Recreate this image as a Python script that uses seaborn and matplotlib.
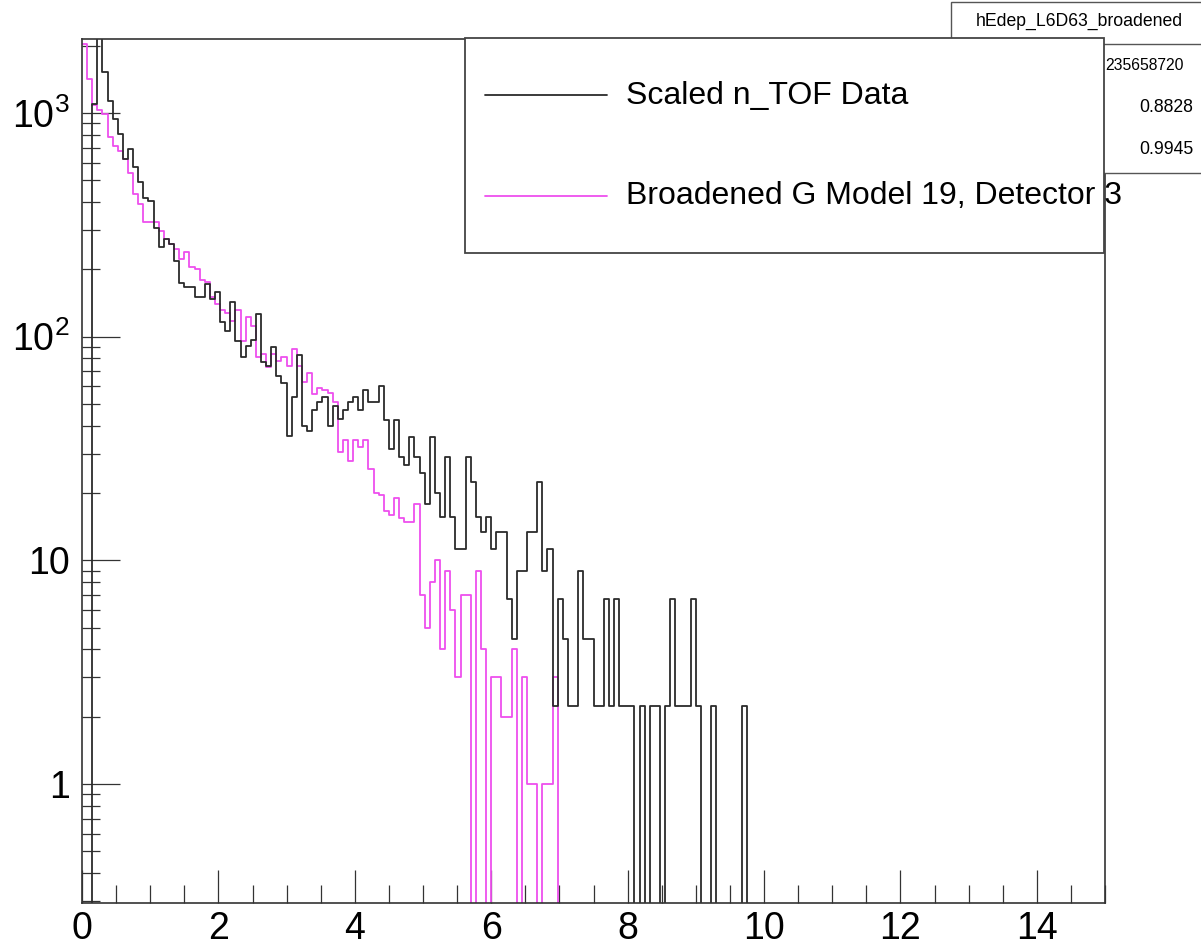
import numpy as np
import pandas as pd
import matplotlib
matplotlib.use("Agg")
import matplotlib.pyplot as plt
from matplotlib.patches import Rectangle
from matplotlib.lines import Line2D
from matplotlib.ticker import LogLocator, MultipleLocator, NullFormatter
import seaborn as sns

# histogram binning: 200 bins from 0 to 15
n_bins = 200
x_lo, x_hi = 0.0, 15.0

# scaled n_TOF data, bin contents (bins 0..129, rest empty)
data_counts = [
    0, 0, 1100, 2600, 1524, 1132, 937, 803, 621, 689,
    574, 489, 415, 405, 305, 252, 273, 259, 218, 174,
    166, 167, 150, 151, 172, 148, 158, 116, 106, 143,
    96, 81, 91, 97, 126, 77, 74, 90, 67, 62,
    36, 54, 83, 40, 38, 47, 51, 54, 40, 49,
    43, 47, 51, 54, 47, 58, 51, 51, 60, 42.4,
    31.3, 42.4, 29.0, 26.8, 35.7, 29.0, 24.6, 17.9, 35.7, 20.1,
    15.6, 29.0, 15.6, 11.2, 11.2, 29.0, 22.3, 15.6, 13.4, 15.6,
    11.2, 13.4, 13.4, 6.7, 4.47, 8.94, 8.94, 13.4, 13.4, 22.3,
    8.94, 11.2, 2.23, 6.7, 4.47, 2.23, 2.23, 8.94, 4.47, 4.47,
    2.23, 2.23, 6.7, 2.23, 6.7, 2.23, 2.23, 2.23, 0, 2.23,
    0, 2.23, 2.23, 0, 2.23, 6.7, 2.23, 2.23, 2.23, 6.7,
    2.23, 0, 0, 2.23, 0, 0, 0, 0, 0, 2.23,
] + [0] * 70

# broadened G model 19, detector 3 (bins 0..92, rest empty)
model_counts = [
    2040, 1420, 1086, 1031, 986, 777, 713, 677, 621, 541,
    433, 391, 324, 324, 327, 297, 273, 259, 246, 222,
    238, 205, 200, 180, 175, 151, 140, 131, 127, 118,
    131, 96, 123, 112, 81, 84, 73, 84, 78, 81,
    74, 88, 74, 63, 69, 55.5, 59, 57.5, 56, 51,
    30.5, 34.6, 27.9, 34.6, 32, 34.6, 25.6, 19.9, 19.5, 16.7,
    16, 18.9, 15.5, 14.8, 14.8, 17.8, 7, 5, 8, 10,
    4, 9, 6, 3, 7, 7, 0, 9, 4, 0,
    3, 3, 2, 2, 4, 0, 3, 1, 1, 0,
    1, 1, 3,
] + [0] * 107

data_label = "Scaled n_TOF Data"
model_label = "Broadened G Model 19, Detector 3"
x_ticks = [0, 2, 4, 6, 8, 10, 12, 14]
y_ticks = [1, 10, 100, 1000]
y_tick_labels = ["1", "10", "$10^{2}$", "$10^{3}$"]

stats_title = "hEdep_L6D63_broadened"
stats_values = ["235658720", "0.8828", "0.9945"]

data_color = "#2b2b2b"
model_color = "#ee4fee"

edges = np.linspace(x_lo, x_hi, n_bins + 1)
centers = 0.5 * (edges[:-1] + edges[1:])
df = pd.DataFrame({
    "edep": np.concatenate([centers, centers]),
    "counts": data_counts + model_counts,
    "series": [data_label] * n_bins + [model_label] * n_bins,
})

sns.set_style("white")
plt.rcParams["font.family"] = ["Liberation Sans", "DejaVu Sans"]
plt.rcParams["mathtext.default"] = "regular"
plt.rcParams["text.color"] = "black"

W, H = 1201, 948
fig = plt.figure(figsize=(W / 100, H / 100), dpi=100)
ax = fig.add_axes([82 / W, 1 - 903 / H, (1105 - 82) / W, (903 - 39) / H])

sns.histplot(data=df, x="edep", weights="counts", hue="series",
             hue_order=[data_label, model_label], bins=edges.tolist(),
             element="step", fill=False, linewidth=1.3,
             palette={data_label: data_color, model_label: model_color},
             legend=False, ax=ax)
for ln in ax.lines:
    if ln.get_color() == data_color:
        ln.set_zorder(3)

ax.set_yscale("log")
ax.set_xlim(x_lo, x_hi)
ax.set_ylim(0.294, 2140)
ax.set_xlabel("")
ax.set_ylabel("")

ax.set_xticks(x_ticks)
ax.set_xticklabels([str(t) for t in x_ticks])
ax.xaxis.set_minor_locator(MultipleLocator(0.5))
ax.set_yticks(y_ticks)
ax.set_yticklabels(y_tick_labels)
ax.yaxis.set_minor_locator(LogLocator(base=10, subs=np.arange(2, 10), numticks=20))
ax.yaxis.set_minor_formatter(NullFormatter())

ax.tick_params(axis="both", which="both", direction="in", colors="#333333",
               labelcolor="black", labelsize=27, bottom=True, left=True,
               top=False, right=False)
ax.tick_params(axis="x", which="major", length=24, width=0.9, pad=6)
ax.tick_params(axis="x", which="minor", length=13, width=0.9)
ax.tick_params(axis="y", which="major", length=27, width=0.9, pad=9)
ax.tick_params(axis="y", which="minor", length=13, width=0.9)
for sp in ax.spines.values():
    sp.set_visible(True)
    sp.set_color("#333333")
    sp.set_linewidth(1.2)


def fx(px):
    return px / W


def fy(py):
    return 1 - py / H


# stats box (partly hidden behind the legend)
fig.patches.append(Rectangle((fx(951), fy(172.7)), fx(1260) - fx(951), fy(1.7) - fy(172.7),
                             transform=fig.transFigure, facecolor="white",
                             edgecolor="#555555", linewidth=1.0, zorder=5))
fig.lines.append(Line2D([fx(951), fx(1260)], [fy(44.3), fy(44.3)],
                        transform=fig.transFigure, color="#555555", lw=1.0, zorder=6))
fig.text(fx(1079), fy(21), stats_title, ha="center", va="center", fontsize=12.7, zorder=7)
fig.text(fx(1184), fy(65), stats_values[0], ha="right", va="center", fontsize=11.3, zorder=7)
fig.text(fx(1193), fy(107), stats_values[1], ha="right", va="center", fontsize=12.7, zorder=7)
fig.text(fx(1193), fy(149), stats_values[2], ha="right", va="center", fontsize=12.7, zorder=7)

# legend box
fig.patches.append(Rectangle((fx(465), fy(252.7)), fx(1104) - fx(465), fy(38.3) - fy(252.7),
                             transform=fig.transFigure, facecolor="white",
                             edgecolor="#444444", linewidth=1.3, zorder=10))
fig.lines.append(Line2D([fx(485), fx(607)], [fy(95), fy(95)], transform=fig.transFigure,
                        color=data_color, lw=1.3, zorder=11))
fig.lines.append(Line2D([fx(485), fx(607)], [fy(195.7), fy(195.7)], transform=fig.transFigure,
                        color=model_color, lw=1.3, zorder=11))
fig.text(fx(626), fy(104), data_label, ha="left", va="baseline", fontsize=23, zorder=12)
fig.text(fx(626), fy(204), model_label, ha="left", va="baseline", fontsize=23, zorder=12)

fig.savefig("out.png", dpi=100, facecolor="white")
